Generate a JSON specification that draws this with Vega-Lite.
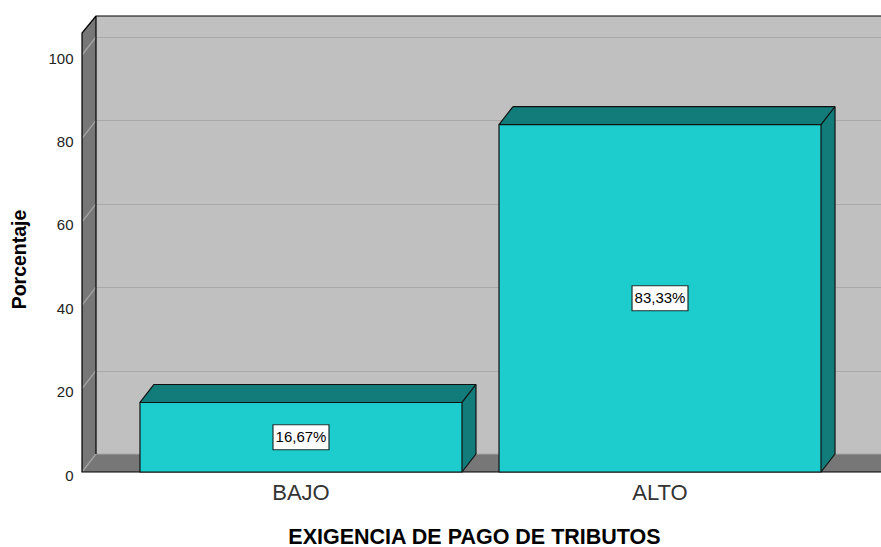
{
  "$schema": "https://vega.github.io/schema/vega-lite/v6.json",
  "width": 785,
  "height": 438,
  "autosize": {"type": "none"},
  "padding": {"left": 96, "top": 16, "right": 0, "bottom": 93},
  "background": "white",
  "config": {
    "view": {"fill": "#c0c0c0", "stroke": null},
    "font": "Liberation Sans"
  },
  "datasets": {
    "bars": [
      {"cat": "BAJO", "value": 16.67},
      {"cat": "ALTO", "value": 83.33}
    ],
    "gridticks": [
      {"tick": 0}, {"tick": 20}, {"tick": 40}, {"tick": 60}, {"tick": 80}, {"tick": 100}
    ]
  },
  "resolve": {"scale": {"x": "independent"}},
  "layer": [
    {
      "layer": [
        {
          "data": {"values": [{}]},
          "mark": {"type": "point", "shape": "M0,-438 L0,0 L800,0 L786,18 L-14,18 L-14,-421 Z", "size": 4, "filled": true, "fill": "#777777", "strokeWidth": 0, "opacity": 1},
          "encoding": {
            "x": {"datum": 0, "type": "quantitative", "scale": {"domain": [0, 1]}, "axis": null},
            "y": {"datum": 0, "type": "quantitative"}
          }
        },
        {
          "data": {"name": "gridticks"},
          "mark": {"type": "point", "shape": "M0,0 L-14,18", "size": 4, "filled": false, "stroke": "#a4a4a4", "strokeWidth": 1.3, "opacity": 1},
          "encoding": {
            "x": {"datum": 0, "type": "quantitative", "scale": {"domain": [0, 1]}, "axis": null},
            "y": {"field": "tick", "type": "quantitative"}
          }
        },
        {
          "data": {"values": [{}]},
          "mark": {"type": "point", "shape": "M0,0 L800,0", "size": 4, "filled": false, "stroke": "#a6a6a6", "strokeWidth": 1, "opacity": 1},
          "encoding": {
            "x": {"datum": 0, "type": "quantitative", "scale": {"domain": [0, 1]}, "axis": null},
            "y": {"datum": 0, "type": "quantitative"}
          }
        },
        {
          "data": {"values": [{}]},
          "mark": {"type": "point", "shape": "M800,-438 L0,-438 L0,0 M0,-438 L-14,-421 L-14,18 L800,18", "size": 4, "filled": false, "stroke": "#000000", "strokeWidth": 1.2, "opacity": 1},
          "encoding": {
            "x": {"datum": 0, "type": "quantitative", "scale": {"domain": [0, 1]}, "axis": null},
            "y": {"datum": 0, "type": "quantitative"}
          }
        }
      ]
    },
    {
      "data": {"name": "bars"},
      "transform": [
        {"calculate": "datum.value / 2", "as": "mid"},
        {"calculate": "replace(format(datum.value, '.2f'), '.', ',') + '%'", "as": "label"}
      ],
      "layer": [
        {
          "mark": {"type": "bar", "fill": "#117c79", "strokeWidth": 0},
          "encoding": {
            "x": {
              "field": "cat", "type": "nominal", "sort": ["BAJO", "ALTO"],
              "scale": {"type": "band", "domain": ["BAJO", "ALTO"], "paddingInner": 0.1031, "paddingOuter": 0.1448, "align": 0.5577},
              "axis": {
                "title": "EXIGENCIA DE PAGO DE TRIBUTOS",
                "titleFontSize": 21.5, "titleFontWeight": "bold", "titleColor": "#000000",
                "titleX": 378, "titleY": 71, "titleBaseline": "alphabetic", "titleAlign": "center",
                "labelFontSize": 22, "labelColor": "#333333", "labelOffset": -14, "labelPadding": 10,
                "labelAngle": 0, "ticks": false, "domain": false, "grid": false, "offset": 18
              }
            },
            "y": {
              "field": "value", "type": "quantitative",
              "scale": {"domain": [0, 105.04], "nice": false, "zero": true},
              "axis": {
                "title": "Porcentaje",
                "titleFontSize": 19.5, "titleFontWeight": "bold", "titleColor": "#000000",
                "titleX": -63, "titleY": 243, "titleBaseline": "middle", "titleAlign": "center", "titleAngle": -90,
                "values": [0, 20, 40, 60, 80, 100],
                "labelFontSize": 15, "labelColor": "#222222", "labelPadding": 9, "labelOffset": 21,
                "offset": 14, "ticks": false, "domain": false,
                "grid": true, "gridColor": "#a9a9a9", "gridWidth": 1
              }
            }
          }
        },
        {
          "mark": {"type": "point", "shape": "M-14,18 L0,0 L0,18 Z", "size": 4, "filled": true, "fill": "#117c79", "strokeWidth": 0, "opacity": 1},
          "encoding": {
            "x": {"field": "cat", "type": "nominal", "bandPosition": 0, "scale": {"type": "band"}},
            "y": {"field": "value", "type": "quantitative"}
          }
        },
        {
          "mark": {"type": "point", "shape": "M-14,18 L0,0 L-14,0 Z", "size": 4, "filled": true, "fill": "#117c79", "strokeWidth": 0, "opacity": 1},
          "encoding": {
            "x": {"field": "cat", "type": "nominal", "bandPosition": 1, "scale": {"type": "band"}},
            "y": {"datum": 0, "type": "quantitative"}
          }
        },
        {
          "mark": {"type": "bar", "fill": "transparent", "stroke": "#111111", "strokeWidth": 1.2},
          "encoding": {
            "x": {"field": "cat", "type": "nominal", "scale": {"type": "band"}},
            "y": {"field": "value", "type": "quantitative"},
            "y2": {"field": "value"}
          }
        },
        {
          "mark": {"type": "rule", "stroke": "#111111", "strokeWidth": 1.2},
          "encoding": {
            "x": {"field": "cat", "type": "nominal", "bandPosition": 1, "scale": {"type": "band"}},
            "y": {"field": "value", "type": "quantitative"},
            "y2": {"datum": 0}
          }
        },
        {
          "mark": {"type": "point", "shape": "M-14,18 L0,0", "size": 4, "filled": false, "stroke": "#111111", "strokeWidth": 1.2, "opacity": 1},
          "encoding": {
            "x": {"field": "cat", "type": "nominal", "bandPosition": 0, "scale": {"type": "band"}},
            "y": {"field": "value", "type": "quantitative"}
          }
        },
        {
          "mark": {"type": "point", "shape": "M-14,18 L0,0", "size": 4, "filled": false, "stroke": "#111111", "strokeWidth": 1.2, "opacity": 1},
          "encoding": {
            "x": {"field": "cat", "type": "nominal", "bandPosition": 1, "scale": {"type": "band"}},
            "y": {"field": "value", "type": "quantitative"}
          }
        },
        {
          "mark": {"type": "point", "shape": "M-14,18 L0,0", "size": 4, "filled": false, "stroke": "#111111", "strokeWidth": 1.2, "opacity": 1},
          "encoding": {
            "x": {"field": "cat", "type": "nominal", "bandPosition": 1, "scale": {"type": "band"}},
            "y": {"datum": 0, "type": "quantitative"}
          }
        },
        {
          "mark": {"type": "bar", "fill": "#1dcdcd", "stroke": "#111111", "strokeWidth": 1.2, "xOffset": -14, "yOffset": 18},
          "encoding": {
            "x": {"field": "cat", "type": "nominal", "scale": {"type": "band"}},
            "y": {"field": "value", "type": "quantitative"}
          }
        },
        {
          "mark": {"type": "point", "shape": "M-28,-12.5 H28 V12.5 H-28 Z", "size": 4, "filled": true, "fill": "#ffffff", "stroke": "#1e3232", "strokeWidth": 1.2, "opacity": 1, "xOffset": -14, "yOffset": 18},
          "encoding": {
            "x": {"field": "cat", "type": "nominal", "scale": {"type": "band"}},
            "y": {"field": "mid", "type": "quantitative"}
          }
        },
        {
          "mark": {"type": "text", "fontSize": 15, "color": "#000000", "align": "center", "baseline": "middle", "dx": -14, "dy": 18},
          "encoding": {
            "x": {"field": "cat", "type": "nominal", "scale": {"type": "band"}},
            "y": {"field": "mid", "type": "quantitative"},
            "text": {"field": "label"}
          }
        }
      ]
    }
  ]
}
